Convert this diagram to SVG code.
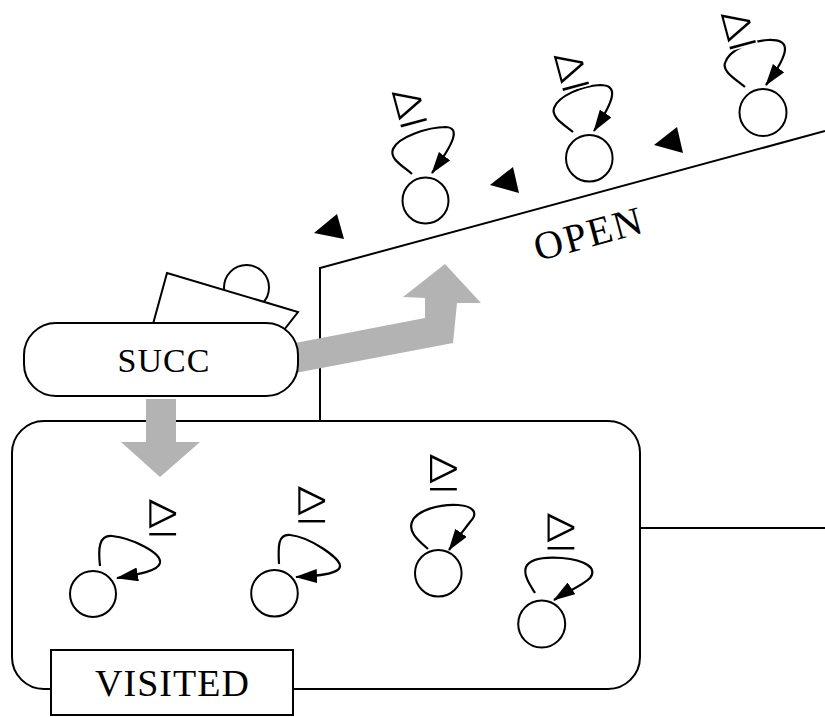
<svg xmlns="http://www.w3.org/2000/svg" width="825" height="717" viewBox="0 0 825 717">
  <defs>
    <style>
      .ln { fill: none; stroke: #000; stroke-width: 2; stroke-linejoin: miter; }
      .box { fill: #fff; stroke: #000; stroke-width: 2; }
      .st { fill: #fff; stroke: #000; stroke-width: 2; }
      .loop { fill: none; stroke: #000; stroke-width: 2.2; marker-end: url(#ah); }
      .flow { fill: #b3b3b3; stroke: none; }
      .tri { fill: #000; }
      .lbl { font-family: "Liberation Serif", "DejaVu Serif", serif; fill: #000; text-anchor: middle; }
      .rel { font-family: "DejaVu Sans", sans-serif; font-size: 42px; fill: #000; stroke: #fff; stroke-width: 1.4; paint-order: normal; text-anchor: middle; }
    </style>
    <marker id="ah" viewBox="0 0 22 14" refX="21" refY="7" markerWidth="22" markerHeight="14" markerUnits="userSpaceOnUse" orient="auto">
      <path d="M0,0 L22,7 L0,14 Z" fill="#000"/>
    </marker>
  </defs>

  <rect width="825" height="717" fill="#fff"/>

  <!-- OPEN region: wall plus sloping floor -->
  <g id="open">
    <path class="ln" d="M320,421 L320,268 L825,131"/>
    <text class="lbl" transform="translate(589,234) rotate(-15.1)" y="13" font-size="40" letter-spacing="2">OPEN</text>
    <polygon class="tri" points="314,233 337,214 344,239"/>
    <polygon class="tri" points="490,185 513,167 519,193"/>
    <polygon class="tri" points="654,145 677,127 683,153"/>
  </g>

  <!-- VISITED region -->
  <g id="visited">
    <path class="ln" d="M640,528 L825,528"/>
    <rect class="box" x="12" y="421" width="628" height="268" rx="32" ry="32"/>
    <rect class="box" x="51" y="650" width="242" height="65"/>
    <text class="lbl" x="172.5" y="696" font-size="38" letter-spacing="1">VISITED</text>
  </g>

  <!-- flows and self-loops -->
  <g id="connectors">
    <polygon class="flow" points="290,344 425,318 425,298 403,297 445,264 481,303 457,303 453,343 290,374"/>
    <polygon class="flow" points="146,399 176,399 176,442 200,442 160,477 121,442 146,442"/>

    <path class="loop" d="M412,174 C403,166 389,159 393,149 C398,137 428,127 446,127 C460,128 455,142 432,173"/>
    <path class="loop" d="M573,132 C565,125 551,118 554,108 C558,96 582,86 600,85 C618,85 616,98 594,131"/>
    <path class="loop" d="M745,87 C737,80 722,72 725,63 C729,50 750,41 768,40 C790,39 792,50 766,85"/>

    <path class="loop" d="M100,566 C98,548 99,535 112,536 C132,538 162,553 160,563 C158,571 140,574 117,578"/>
    <path class="loop" d="M279,564 C278,546 278,534 290,535 C310,537 340,558 340,566 C340,574 318,576 296,577"/>
    <path class="loop" d="M428,549 C418,540 408,532 412,522 C416,510 440,504 458,505 C475,506 478,514 470,522 C464,530 456,540 449,550"/>
    <path class="loop" d="M535,593 C530,585 523,575 526,567 C530,558 548,557 562,558 C585,560 598,568 590,578 C582,586 566,592 554,600"/>
  </g>

  <!-- SUCC with the state it is emitting -->
  <g id="succ">
    <circle class="st" cx="246.5" cy="287.5" r="22.5"/>
    <polygon class="box" points="167,273 298,312 280,335 150,335"/>
    <rect class="box" x="24" y="323" width="274" height="73" rx="32" ry="32"/>
    <text class="lbl" x="164" y="372" font-size="34" letter-spacing="1">SUCC</text>
  </g>

  <!-- states waiting in OPEN -->
  <g id="open-1">
    <circle class="st" cx="425.5" cy="200.5" r="23"/>
    <text class="rel" transform="translate(409,105.5) rotate(-15) scale(1.08,1.28)" y="13.6">⊵</text>
  </g>
  <g id="open-2">
    <circle class="st" cx="589.3" cy="158.3" r="23.3"/>
    <text class="rel" transform="translate(571,69) rotate(-15) scale(1.08,1.28)" y="13.6">⊵</text>
  </g>
  <g id="open-3">
    <circle class="st" cx="763" cy="112.5" r="23.5"/>
    <text class="rel" transform="translate(738,27.5) rotate(-15) scale(1.08,1.28)" y="13.6">⊵</text>
  </g>

  <!-- states already in VISITED -->
  <g id="visited-1">
    <circle class="st" cx="93" cy="594" r="23"/>
    <text class="rel" transform="translate(162.5,516.5) scale(1.08,1.28)" y="13.6">⊵</text>
  </g>
  <g id="visited-2">
    <circle class="st" cx="274.5" cy="593.3" r="23.3"/>
    <text class="rel" transform="translate(311.5,503.3) scale(1.08,1.28)" y="13.6">⊵</text>
  </g>
  <g id="visited-3">
    <circle class="st" cx="438.3" cy="573.3" r="23.3"/>
    <text class="rel" transform="translate(443.3,472) scale(1.08,1.28)" y="13.6">⊵</text>
  </g>
  <g id="visited-4">
    <circle class="st" cx="541.7" cy="624" r="23.5"/>
    <text class="rel" transform="translate(560.8,531) scale(1.08,1.28)" y="13.6">⊵</text>
  </g>
</svg>
